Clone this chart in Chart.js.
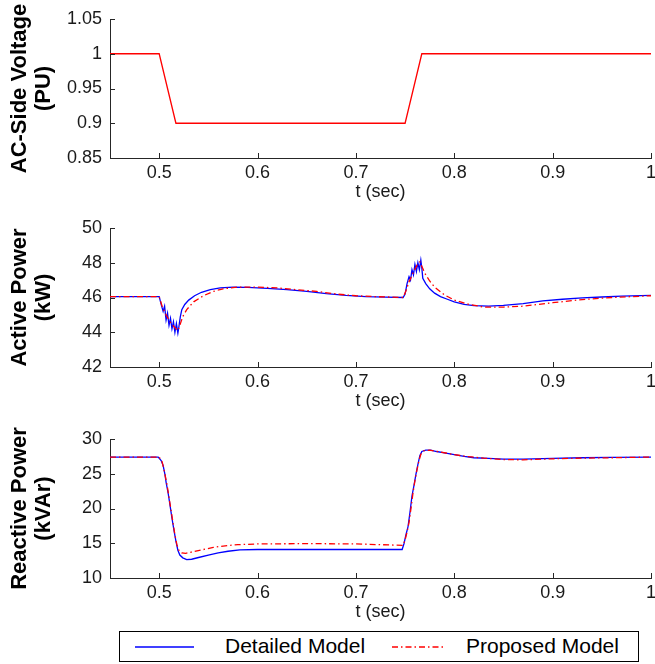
<!DOCTYPE html>
<html>
<head>
<meta charset="utf-8">
<script src="https://cdn.jsdelivr.net/npm/chart.js@4.4.1/dist/chart.umd.min.js"></script>
<style>
  body { margin: 0; background: #fff; }
  .plot { position: absolute; left: 0; width: 655px; height: 206px; }
  #legend {
    position: absolute; left: 119px; top: 631px; width: 520px; height: 31px;
    border: 1px solid #000; box-sizing: border-box;
    font-family: "Liberation Sans", Arial, sans-serif; font-size: 21px; color: #000;
  }
  #legend span { position: absolute; top: 2px; }
  #legend svg { position: absolute; top: 0; }
</style>
</head>
<body>
<div class="plot" style="top:0px"><canvas id="voltageChart" width="655" height="206"></canvas></div>
<div class="plot" style="top:209px"><canvas id="activeChart" width="655" height="206"></canvas></div>
<div class="plot" style="top:420px"><canvas id="reactiveChart" width="655" height="206"></canvas></div>
<div id="legend">
  <svg width="520" height="29">
    <line x1="15" y1="15" x2="74" y2="15" stroke="#0000ff" stroke-width="1.3"/>
    <line x1="272" y1="15" x2="326" y2="15" stroke="#ff0000" stroke-width="1.3" stroke-dasharray="6,3,1.5,3"/>
  </svg>
  <span style="left:105px">Detailed Model</span>
  <span style="left:346px">Proposed Model</span>
</div>
<script>
// x axis ticks (shared)
const timeTicks = [0.5, 0.6, 0.7, 0.8, 0.9, 1];

// AC-side voltage (PU)
const voltTime = [0.45, 0.5, 0.517, 0.75, 0.767, 1.0];
const voltValue = [1, 1, 0.9, 0.9, 1, 1];
const voltTicks = [0.85, 0.9, 0.95, 1, 1.05];

// Active power (kW)
const pDetailedTime = [0.45, 0.5, 0.502, 0.504, 0.5055, 0.507, 0.5085, 0.51, 0.5115, 0.513, 0.5145, 0.516, 0.5175, 0.519, 0.52, 0.5215, 0.523, 0.526, 0.53, 0.536, 0.543, 0.552, 0.562, 0.575, 0.59, 0.61, 0.63, 0.65, 0.67, 0.69, 0.71, 0.73, 0.748,
  0.75, 0.752, 0.754, 0.7555, 0.757, 0.7585, 0.76, 0.7615, 0.763, 0.7645, 0.766, 0.767, 0.768, 0.771, 0.775, 0.78, 0.786, 0.793, 0.8, 0.81, 0.82, 0.835, 0.85, 0.87, 0.89, 0.91, 0.93, 0.95, 0.97, 1.0];
const pDetailedValue = [46.05, 46.05, 45.6, 45.2, 45.5, 44.7, 45.1, 44.4, 44.8, 44.2, 44.6, 44.0, 44.5, 43.95, 44.3, 44.9, 45.3, 45.6, 45.85, 46.1, 46.3, 46.45, 46.55, 46.6, 46.58, 46.52, 46.45, 46.35, 46.22, 46.12, 46.05, 46.02, 46.0,
  46.2, 46.8, 47.2, 47.0, 47.6, 47.3, 47.9, 47.5, 48.0, 47.6, 48.15, 47.7, 47.1, 46.8, 46.5, 46.25, 46.05, 45.9, 45.75, 45.6, 45.53, 45.5, 45.55, 45.65, 45.8, 45.9, 45.98, 46.03, 46.08, 46.12];
const pProposedTime = [0.45, 0.5, 0.503, 0.507, 0.511, 0.514, 0.517, 0.519, 0.521, 0.524, 0.528, 0.535, 0.545, 0.555, 0.565, 0.58, 0.6, 0.62, 0.64, 0.66, 0.68, 0.7, 0.72, 0.748,
  0.751, 0.754, 0.758, 0.762, 0.765, 0.767, 0.77, 0.775, 0.78, 0.79, 0.8, 0.815, 0.83, 0.85, 0.87, 0.9, 0.93, 0.96, 1.0];
const pProposedValue = [46.05, 46.05, 45.5, 45.0, 44.6, 44.4, 44.2, 44.1, 44.4, 44.9, 45.3, 45.75, 46.1, 46.35, 46.5, 46.6, 46.6, 46.55, 46.45, 46.35, 46.2, 46.1, 46.05, 46.0,
  46.4, 46.9, 47.4, 47.85, 48.05, 47.8, 47.4, 46.95, 46.6, 46.15, 45.85, 45.6, 45.45, 45.45, 45.5, 45.7, 45.88, 46.0, 46.1];
const pTicks = [42, 44, 46, 48, 50];

// Reactive power (kVAr)
const qDetailedTime = [0.45, 0.499, 0.502, 0.504, 0.506, 0.507, 0.509, 0.511, 0.513, 0.515, 0.517, 0.519, 0.521, 0.524, 0.528, 0.533, 0.54, 0.55, 0.56, 0.57, 0.582, 0.6, 0.7, 0.747,
  0.749, 0.751, 0.753, 0.755, 0.757, 0.759, 0.761, 0.763, 0.765, 0.767, 0.771, 0.776, 0.782, 0.79, 0.8, 0.81, 0.82, 0.835, 0.85, 0.87, 0.9, 0.93, 0.96, 1.0];
const qDetailedValue = [27.4, 27.4, 26.9, 26.2, 24.8, 23.8, 22.3, 20.5, 18.6, 16.9, 15.3, 14.0, 13.3, 12.9, 12.65, 12.7, 12.95, 13.3, 13.6, 13.85, 14.05, 14.1, 14.1, 14.1,
  15.0, 16.3, 17.4, 19.5, 21.8, 23.3, 24.9, 26.3, 27.6, 28.2, 28.4, 28.4, 28.2, 28.0, 27.75, 27.5, 27.3, 27.2, 27.1, 27.1, 27.2, 27.3, 27.35, 27.4];
const qProposedTime = [0.45, 0.5, 0.503, 0.505, 0.508, 0.51, 0.512, 0.514, 0.516, 0.518, 0.52, 0.523, 0.527, 0.535, 0.545, 0.555, 0.565, 0.58, 0.6, 0.65, 0.7, 0.748,
  0.75, 0.752, 0.754, 0.756, 0.758, 0.76, 0.762, 0.764, 0.766, 0.769, 0.775, 0.785, 0.8, 0.815, 0.83, 0.85, 0.87, 0.9, 0.93, 0.96, 1.0];
const qProposedValue = [27.4, 27.4, 26.7, 25.5, 23.4, 21.6, 19.8, 18.0, 16.2, 14.8, 14.0, 13.6, 13.55, 13.8, 14.1, 14.4, 14.6, 14.8, 14.9, 14.95, 14.9, 14.7,
  15.5, 16.6, 18.0, 20.0, 22.2, 24.0, 25.5, 26.8, 27.8, 28.3, 28.4, 28.15, 27.75, 27.45, 27.25, 27.05, 27.0, 27.15, 27.25, 27.3, 27.4];
const qTicks = [10, 15, 20, 25, 30];

const FONT = '"Liberation Sans", Arial, sans-serif';
const AXIS_COLOR = '#262626';

const toPoints = (xs, ys) => xs.map((x, i) => ({ x, y: ys[i] }));
const fmt = v => String(+v.toFixed(3));

// MATLAB style ticks pointing into the plot
const inwardTicks = {
    id: 'inwardTicks',
    afterDraw(chart) {
        const { ctx, chartArea } = chart;
        const xs = chart.scales.x, ys = chart.scales.y;
        ctx.save();
        ctx.strokeStyle = AXIS_COLOR;
        ctx.lineWidth = 1;
        ctx.beginPath();
        xs.ticks.forEach(t => {
            const px = Math.round(xs.getPixelForValue(t.value)) + 0.5;
            ctx.moveTo(px, chartArea.bottom);
            ctx.lineTo(px, chartArea.bottom - 5);
        });
        ys.ticks.forEach(t => {
            const py = Math.round(ys.getPixelForValue(t.value)) + 0.5;
            ctx.moveTo(chartArea.left, py);
            ctx.lineTo(chartArea.left + 5, py);
        });
        ctx.stroke();
        ctx.restore();
    }
};

const makeChart = (id, datasets, yMin, yMax, yTicks, yTitle) => {
    const ctx = document.getElementById(id).getContext('2d');
    return new Chart(ctx, {
        type: 'scatter',
        data: { datasets },
        options: {
            responsive: false,
            animation: false,
            layout: { padding: { top: 19, right: 4, left: 0, bottom: 0 } },
            plugins: { legend: { display: false }, tooltip: { enabled: false } },
            elements: { point: { radius: 0 }, line: { tension: 0 } },
            scales: {
                x: {
                    type: 'linear',
                    min: 0.45,
                    max: 1,
                    afterBuildTicks: s => { s.ticks = timeTicks.map(v => ({ value: v })); },
                    afterFit: s => { s.height = 48; s.paddingLeft = 0; s.paddingRight = 0; },
                    grid: { drawOnChartArea: false, drawTicks: false },
                    border: { color: AXIS_COLOR, width: 1 },
                    ticks: { padding: 4, color: '#1a1a1a', font: { family: FONT, size: 18 }, callback: fmt, maxRotation: 0 },
                    title: { display: true, text: 't (sec)', color: '#1a1a1a', padding: { top: 0, bottom: 3 }, font: { family: FONT, size: 18 } }
                },
                y: {
                    min: yMin,
                    max: yMax,
                    afterBuildTicks: s => { s.ticks = yTicks.map(v => ({ value: v })); },
                    afterFit: s => { s.width = 110; },
                    grid: { drawOnChartArea: false, drawTicks: false },
                    border: { color: AXIS_COLOR, width: 1 },
                    ticks: { padding: 8, color: '#1a1a1a', font: { family: FONT, size: 18 }, callback: fmt },
                    title: { display: true, text: yTitle, color: '#000', padding: { top: 8, bottom: 0 }, font: { family: FONT, size: 22, weight: 'bold', lineHeight: 1.1 } }
                }
            }
        },
        plugins: [inwardTicks]
    });
};

const detailedStyle = { showLine: true, borderColor: '#0000ff', borderWidth: 1.3, order: 1 };
const proposedStyle = { showLine: true, borderColor: '#ff0000', borderWidth: 1.3, borderDash: [6, 3, 1.5, 3], order: 0 };

document.addEventListener('DOMContentLoaded', () => {
    makeChart('voltageChart', [
        { label: 'Voltage', data: toPoints(voltTime, voltValue), showLine: true, borderColor: '#ff0000', borderWidth: 1.3 }
    ], 0.85, 1.05, voltTicks, ['AC-Side Voltage', '(PU)']);

    makeChart('activeChart', [
        { label: 'Detailed Model', data: toPoints(pDetailedTime, pDetailedValue), ...detailedStyle },
        { label: 'Proposed Model', data: toPoints(pProposedTime, pProposedValue), ...proposedStyle }
    ], 42, 50, pTicks, ['Active Power', '(kW)']);

    makeChart('reactiveChart', [
        { label: 'Detailed Model', data: toPoints(qDetailedTime, qDetailedValue), ...detailedStyle },
        { label: 'Proposed Model', data: toPoints(qProposedTime, qProposedValue), ...proposedStyle }
    ], 10, 30, qTicks, ['Reactive Power', '(kVAr)']);
});
</script>
</body>
</html>
